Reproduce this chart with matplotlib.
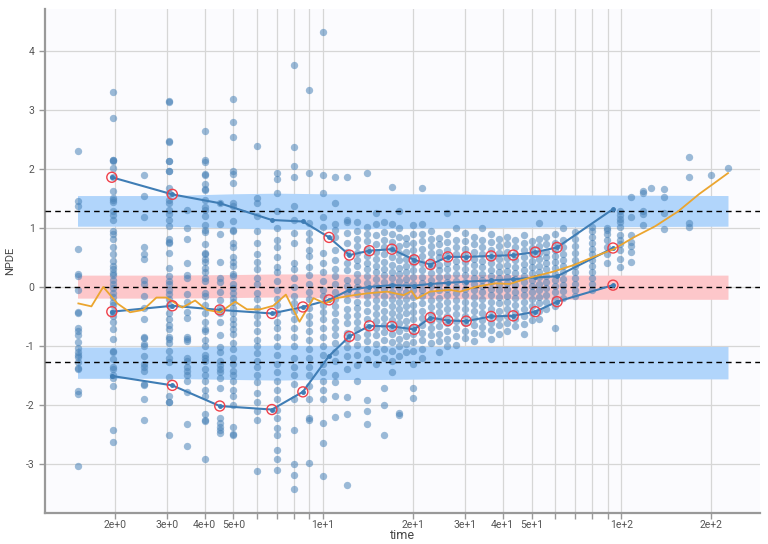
import numpy as np
import matplotlib
matplotlib.use("Agg")
import matplotlib.pyplot as plt
from matplotlib.ticker import FixedLocator, FixedFormatter, NullFormatter

plt.rcParams["font.family"] = ["Roboto", "DejaVu Sans"]

# observed NPDE, one list per sampling time
obs_times = [1.51, 1.97, 2.5, 3.05, 3.5, 4.0, 4.5, 5.0, 6.0, 7.0, 8.0, 9.0, 10.0,
             11, 12, 13, 14, 15, 16, 17, 18, 19, 20, 21.5, 23, 24.5, 26, 28, 30,
             32, 34, 36.5, 39, 41.5, 44, 47, 50, 53, 56, 60, 64, 70, 80, 89.5,
             99, 108, 118, 126, 139, 169, 200, 228]
obs_npde = [
    [2.31, 1.45, 1.37, 0.65, 0.22, 0.19, -0.05, -0.42, -0.45, -0.70, -0.74, -0.81, -0.94, -1.03,
     -1.10, -1.15, -1.19, -1.28, -1.37, -1.40, -1.77, -1.81, -3.03],
    [3.31, 2.87, 2.16, 2.15, 2.13, 2.02, 1.86, 1.62, 1.50, 1.47, 1.44, 1.29, 1.22, 1.14, 0.95, 0.90,
     0.82, 0.68, 0.55, 0.44, 0.35, 0.31, 0.24, 0.20, 0.12, 0.05, -0.02, -0.10, -0.17, -0.25, -0.30,
     -0.42, -0.50, -0.60, -0.72, -0.88, -1.08, -1.10, -1.22, -1.35, -1.40, -1.50, -1.55, -1.68,
     -2.43, -2.63],
    [1.89, 1.55, 1.19, 0.68, 0.55, 0.48, 0.12, 0.05, -0.15, -0.35, -0.55, -0.85, -0.87, -0.97,
     -1.00, -1.18, -1.30, -1.35, -1.42, -1.65, -1.67, -1.90, -2.26],
    [3.15, 3.14, 2.47, 2.46, 2.14, 2.13, 1.97, 1.96, 1.67, 1.60, 1.48, 1.42, 1.30, 1.24, 1.13, 1.04,
     0.82, 0.77, 0.75, 0.57, 0.32, 0.18, 0.10, 0.05, -0.05, -0.12, -0.20, -0.30, -0.45, -0.55,
     -0.65, -0.72, -0.85, -0.88, -0.95, -1.08, -1.20, -1.28, -1.53, -1.85, -1.95, -1.96, -2.51],
    [1.30, 1.00, 0.82, 0.40, 0.20, 0.15, -0.12, -0.25, -0.42, -0.53, -0.85, -0.88, -0.92, -1.20,
     -1.25, -1.35, -1.42, -1.50, -1.60, -1.78, -2.33, -2.70],
    [2.65, 2.16, 2.12, 1.91, 1.89, 1.74, 1.66, 1.64, 1.47, 1.35, 1.30, 1.20, 1.05, 0.97, 0.93, 0.73,
     0.58, 0.55, 0.48, 0.42, 0.32, 0.25, 0.15, 0.10, -0.10, -0.15, -0.30, -0.45, -0.60, -0.72,
     -0.75, -0.90, -1.00, -1.15, -1.20, -1.25, -1.40, -1.50, -1.60, -1.75, -1.85, -2.15, -2.25,
     -2.27, -2.92],
    [1.43, 1.07, 0.89, 0.42, 0.15, 0.08, -0.08, -0.23, -0.35, -0.45, -0.60, -0.82, -1.02, -1.10,
     -1.25, -1.32, -1.40, -1.45, -1.55, -1.72, -2.22, -2.30, -2.38, -2.42, -2.47],
    [3.18, 2.80, 2.54, 1.97, 1.91, 1.77, 1.42, 1.38, 1.12, 0.97, 0.95, 0.75, 0.68, 0.50, 0.42, 0.35,
     0.22, 0.18, 0.05, -0.02, -0.10, -0.18, -0.25, -0.35, -0.45, -0.55, -0.63, -0.72, -0.80, -0.95,
     -1.05, -1.20, -1.30, -1.42, -1.50, -1.60, -1.75, -1.85, -2.00, -2.38, -2.50, -2.52],
    [2.39, 1.50, 1.42, 1.20, 0.95, 0.75, 0.55, 0.42, 0.30, 0.15, 0.05, -0.10, -0.20, -0.35, -0.50,
     -0.62, -0.75, -0.90, -1.00, -1.12, -1.25, -1.35, -1.50, -1.62, -1.80, -1.95, -2.10, -2.25,
     -3.13],
    [1.93, 1.83, 1.60, 1.29, 1.00, 0.80, 0.68, 0.50, 0.34, 0.25, 0.10, -0.05, -0.20, -0.30, -0.45,
     -0.60, -0.70, -0.85, -1.00, -1.15, -1.30, -1.45, -1.60, -1.75, -1.90, -2.09, -2.23, -2.40,
     -2.51, -2.76, -2.92, -3.10],
    [3.76, 2.38, 2.05, 1.87, 1.38, 1.13, 0.91, 0.75, 0.41, 0.30, 0.15, 0.00, -0.15, -0.28, -0.40,
     -0.55, -0.70, -0.85, -1.00, -1.20, -1.35, -1.50, -1.65, -1.90, -2.43, -3.00, -3.19, -3.43],
    [3.34, 1.93, 1.09, 0.91, 0.80, 0.63, 0.52, 0.34, 0.20, 0.05, -0.08, -0.20, -0.35, -0.50, -0.62,
     -0.75, -0.90, -1.05, -1.20, -1.35, -1.50, -1.68, -1.90, -2.23, -2.25, -2.99],
    [4.32, 1.89, 1.60, 1.19, 1.02, 0.57, 0.41, 0.25, 0.10, -0.05, -0.15, -0.30, -0.42, -0.55, -0.70,
     -0.85, -1.00, -1.15, -1.30, -1.45, -1.60, -1.75, -1.90, -2.30, -2.65, -3.20],
    [1.87, 1.43, 1.06, 0.96, 0.85, 0.63, 0.45, 0.30, 0.18, 0.05, -0.08, -0.20, -0.33, -0.45, -0.58,
     -0.70, -0.82, -0.95, -1.10, -1.25, -1.50, -1.62, -1.85, -2.20],
    [1.87, 1.14, 1.10, 0.92, 0.75, 0.60, 0.41, 0.28, 0.12, 0.02, -0.10, -0.22, -0.38, -0.50, -0.62,
     -0.78, -0.90, -1.02, -1.18, -1.40, -1.86, -2.15, -3.36],
    [1.10, 0.95, 0.82, 0.70, 0.58, 0.46, 0.35, 0.22, 0.10, 0.00, -0.12, -0.25, -0.35, -0.48, -0.60,
     -0.72, -0.85, -0.98, -1.15, -1.32, -1.60],
    [1.93, 1.02, 0.90, 0.78, 0.65, 0.52, 0.40, 0.30, 0.18, 0.06, -0.05, -0.16, -0.28, -0.40, -0.55,
     -0.68, -0.80, -0.92, -1.05, -1.22, -1.91, -2.11, -2.32],
    [1.25, 1.06, 0.88, 0.72, 0.60, 0.48, 0.36, 0.25, 0.14, 0.02, -0.10, -0.22, -0.34, -0.46, -0.58,
     -0.70, -0.82, -0.96, -1.10, -1.30],
    [1.10, 0.94, 0.80, 0.68, 0.55, 0.42, 0.30, 0.20, 0.08, -0.04, -0.15, -0.27, -0.40, -0.52, -0.64,
     -0.76, -0.90, -1.05, -1.20, -1.71, -2.00, -2.52],
    [1.69, 1.06, 0.90, 0.76, 0.64, 0.50, 0.38, 0.26, 0.15, 0.04, -0.08, -0.20, -0.32, -0.44, -0.56,
     -0.68, -0.80, -0.93, -1.08, -1.25, -1.45],
    [1.28, 1.00, 0.85, 0.70, 0.58, 0.45, 0.32, 0.22, 0.10, -0.02, -0.13, -0.25, -0.37, -0.50, -0.62,
     -0.75, -0.88, -1.00, -1.18, -2.14, -2.17],
    [0.83, 0.72, 0.60, 0.48, 0.36, 0.26, 0.14, 0.03, -0.08, -0.20, -0.32, -0.44, -0.57, -0.70, -0.83,
     -0.96, -1.10],
    [1.05, 0.90, 0.75, 0.62, 0.50, 0.40, 0.28, 0.16, 0.05, -0.06, -0.17, -0.30, -0.42, -0.55, -0.68,
     -0.80, -0.93, -1.08, -1.30, -1.72, -1.88],
    [1.67, 1.07, 0.90, 0.78, 0.64, 0.52, 0.40, 0.28, 0.17, 0.06, -0.05, -0.16, -0.28, -0.40, -0.52,
     -0.65, -0.78, -0.90, -1.05, -1.20],
    [0.95, 0.82, 0.70, 0.58, 0.46, 0.35, 0.23, 0.12, 0.01, -0.10, -0.22, -0.34, -0.46, -0.58, -0.70,
     -0.82, -0.95],
    [0.83, 0.72, 0.60, 0.50, 0.38, 0.28, 0.16, 0.05, -0.06, -0.18, -0.30, -0.42, -0.55, -0.67, -0.80,
     -0.92, -1.10],
    [1.25, 0.90, 0.76, 0.63, 0.52, 0.40, 0.30, 0.18, 0.08, -0.03, -0.14, -0.26, -0.38, -0.50, -0.62,
     -0.75, -0.88, -1.00],
    [1.00, 0.80, 0.68, 0.55, 0.44, 0.33, 0.22, 0.10, 0.00, -0.11, -0.22, -0.34, -0.46, -0.58, -0.70,
     -0.84, -0.98],
    [0.92, 0.78, 0.65, 0.54, 0.42, 0.30, 0.20, 0.08, -0.03, -0.14, -0.26, -0.38, -0.50, -0.62, -0.74,
     -0.86],
    [0.85, 0.72, 0.60, 0.48, 0.37, 0.26, 0.15, 0.05, -0.06, -0.17, -0.29, -0.41, -0.53, -0.65, -0.78,
     -0.92],
    [1.00, 0.80, 0.67, 0.55, 0.44, 0.33, 0.22, 0.12, 0.02, -0.09, -0.20, -0.32, -0.44, -0.56, -0.68,
     -0.80],
    [0.90, 0.76, 0.63, 0.51, 0.40, 0.29, 0.18, 0.08, -0.03, -0.14, -0.25, -0.37, -0.49, -0.61, -0.73,
     -0.88],
    [0.82, 0.70, 0.58, 0.47, 0.36, 0.25, 0.15, 0.05, -0.06, -0.17, -0.28, -0.40, -0.52, -0.64, -0.80],
    [0.85, 0.73, 0.60, 0.49, 0.38, 0.27, 0.17, 0.06, -0.04, -0.15, -0.26, -0.38, -0.50, -0.62, -0.75],
    [0.80, 0.68, 0.56, 0.45, 0.34, 0.24, 0.13, 0.03, -0.08, -0.19, -0.30, -0.42, -0.54, -0.66],
    [0.88, 0.74, 0.62, 0.50, 0.39, 0.28, 0.18, 0.08, -0.03, -0.14, -0.25, -0.37, -0.50, -0.63, -0.80],
    [0.78, 0.66, 0.55, 0.44, 0.33, 0.23, 0.12, 0.02, -0.09, -0.20, -0.32, -0.44, -0.56],
    [1.08, 0.82, 0.70, 0.58, 0.47, 0.36, 0.26, 0.16, 0.05, -0.06, -0.17, -0.28, -0.40, -0.55],
    [0.85, 0.72, 0.60, 0.50, 0.40, 0.30, 0.19, 0.08, -0.02, -0.13, -0.25, -0.38],
    [0.90, 0.75, 0.62, 0.52, 0.42, 0.32, 0.22, 0.12, 0.02, -0.08, -0.20, -0.32, -0.69],
    [1.00, 0.80, 0.68, 0.56, 0.45, 0.35, 0.25, 0.14, 0.04, -0.07, -0.18],
    [0.94, 0.82, 0.70, 0.58, 0.46, 0.36, 0.26, 0.15, 0.05, -0.05, -0.15],
    [1.02, 0.95, 0.85, 0.75, 0.65, 0.55, 0.45, 0.35, 0.25, 0.15, 0.05, -0.05],
    [1.00, 0.97, 0.90, 0.80, 0.68, 0.56, 0.40],
    [1.28, 1.22, 1.16, 1.10, 1.02, 0.88, 0.80, 0.72, 0.63, 0.47, 0.33],
    [1.53, 1.19, 0.88, 0.77, 0.69, 0.60, 0.43],
    [1.62, 1.60, 1.29, 1.23, 1.05],
    [1.67],
    [1.66, 1.53, 1.25, 0.99],
    [2.20, 1.87, 1.08, 1.01],
    [1.89],
    [2.02],
]

# observed percentiles per time bin
bin_time = [1.955, 3.12, 4.5, 6.73, 8.55, 10.47, 12.25, 14.3, 17.0, 20.2, 22.9, 26.2,
            30.2, 36.6, 43.4, 51.5, 60.9, 93.8]
obs_p90 = [1.86, 1.57, 1.42, 1.135, 1.11, 0.84, 0.54, 0.615, 0.64, 0.46, 0.38, 0.51,
           0.51, 0.525, 0.54, 0.59, 0.67, 1.32]
obs_p50 = [-0.42, -0.32, -0.39, -0.45, -0.34, -0.22, -0.05, 0.0, 0.03, 0.02, 0.05, 0.07,
           0.09, 0.11, 0.13, 0.16, 0.18, 0.66]
obs_p10 = [-1.51, -1.67, -2.02, -2.08, -1.78, -1.17, -0.84, -0.66, -0.67, -0.72, -0.52, -0.57,
           -0.58, -0.50, -0.49, -0.42, -0.25, 0.03]

# prediction interval bands
band_time = [1.5, 3, 5, 7, 10, 15, 25, 40, 70, 228]
hi_up = [1.55, 1.55, 1.58, 1.59, 1.58, 1.58, 1.58, 1.57, 1.56, 1.55]
hi_lo = [1.03, 1.03, 1.00, 0.98, 0.98, 0.99, 1.00, 1.01, 1.02, 1.03]
mid_up = [0.20, 0.20, 0.21, 0.22, 0.22, 0.21, 0.21, 0.21, 0.20, 0.20]
mid_lo = [-0.19, -0.19, -0.18, -0.17, -0.18, -0.19, -0.20, -0.20, -0.21, -0.21]
low_up = [-1.02, -1.02, -1.00, -0.99, -1.00, -1.00, -1.01, -1.01, -1.01, -1.01]
low_lo = [-1.55, -1.55, -1.57, -1.58, -1.57, -1.57, -1.56, -1.56, -1.56, -1.56]

# smoothed trend
trend_time = [1.51, 1.67, 1.83, 2.04, 2.25, 2.49, 2.76, 2.98, 3.37, 3.72, 4.07, 4.51, 5.07,
              5.55, 6.15, 6.8, 7.5, 8.33, 9.28, 10.15, 11.1, 12.3, 14.0, 16.4, 18.6, 19.8,
              20.6, 22.8, 26.6, 28.8, 32.4, 37.8, 42.2, 49.6, 59.2, 69.2, 80.8, 94.3, 110,
              130, 155, 183, 205, 228]
trend_val = [-0.28, -0.33, 0.0, -0.28, -0.43, -0.39, -0.18, -0.18, -0.35, -0.23, -0.39, -0.43,
             -0.25, -0.38, -0.38, -0.32, -0.13, -0.59, -0.19, -0.28, -0.19, -0.15, -0.11, -0.08,
             -0.14, -0.07, -0.2, -0.08, -0.05, -0.08, 0.0, 0.06, 0.05, 0.16, 0.26, 0.37, 0.51,
             0.64, 0.84, 1.03, 1.28, 1.58, 1.76, 1.93]

xtick_vals = [2, 3, 4, 5, 10, 20, 30, 40, 50, 100, 200]
xtick_text = ["2e+0", "3e+0", "4e+0", "5e+0", "1e+1", "2e+1", "3e+1", "4e+1", "5e+1", "1e+2", "2e+2"]
xminor_vals = [6, 7, 8, 9, 60, 70, 80, 90]

fig = plt.figure(figsize=(7.68, 5.44), dpi=100)
ax = fig.add_axes([0.0586, 0.0575, 0.931, 0.9255])
ax.set_facecolor("#fbfbfe")

blue_band = "#b1d5fb"
red_band = "#fdc7ca"
ax.fill_between(band_time, hi_lo, hi_up, color=blue_band, lw=0, zorder=1)
ax.fill_between(band_time, mid_lo, mid_up, color=red_band, lw=0, zorder=1)
ax.fill_between(band_time, low_lo, low_up, color=blue_band, lw=0, zorder=1)

xs = np.concatenate([[t] * len(v) for t, v in zip(obs_times, obs_npde)])
ys = np.concatenate(obs_npde)
ax.scatter(xs, ys, s=28, color="#4a83b8", alpha=0.55, lw=0, zorder=2)

for yv in (1.2816, 0, -1.2816):
    ax.axhline(yv, color="black", lw=1, ls=(0, (4, 3)), zorder=3)

line_col = "#3f7db5"
bt = np.array(bin_time)
for vals, lo, hi in ((obs_p90, hi_lo, hi_up), (obs_p50, mid_lo, mid_up), (obs_p10, low_lo, low_up)):
    vals = np.array(vals)
    ax.plot(bt, vals, color=line_col, lw=1.5, marker="o", ms=2.5, zorder=4)
    blo = np.interp(np.log(bt), np.log(band_time), lo)
    bhi = np.interp(np.log(bt), np.log(band_time), hi)
    out = (vals < blo) | (vals > bhi)
    ax.scatter(bt[out], vals[out], s=52, facecolors="none", edgecolors="#f0404a", lw=1.0, zorder=6)

ax.plot(trend_time, trend_val, color="#eba52f", lw=1.3, zorder=5)

ax.set_xscale("log")
ax.set_xlim(1.167, 292)
ax.set_ylim(-3.83, 4.71)
ax.xaxis.set_major_locator(FixedLocator(xtick_vals))
ax.xaxis.set_major_formatter(FixedFormatter(xtick_text))
ax.xaxis.set_minor_locator(FixedLocator(xminor_vals))
ax.xaxis.set_minor_formatter(NullFormatter())
ax.set_yticks(range(-3, 5))
ax.set_yticklabels([str(v) for v in range(-3, 5)])

ax.grid(True, which="both", color="#d6d6d6", lw=0.9, zorder=0)
ax.set_axisbelow(True)
for side in ("top", "right"):
    ax.spines[side].set_visible(False)
for side in ("left", "bottom"):
    ax.spines[side].set_color("#999999")
    ax.spines[side].set_linewidth(1.6)
ax.tick_params(which="both", colors="#999999", labelcolor="#555555", labelsize=7.5, length=4, width=1)
ax.tick_params(axis="x", which="both", pad=1.5)

ax.set_xlabel("time", fontsize=9, color="#444444", labelpad=-1)
ax.set_ylabel("NPDE", fontsize=8, color="#444444", labelpad=8)

fig.savefig("out.png", dpi=100)
